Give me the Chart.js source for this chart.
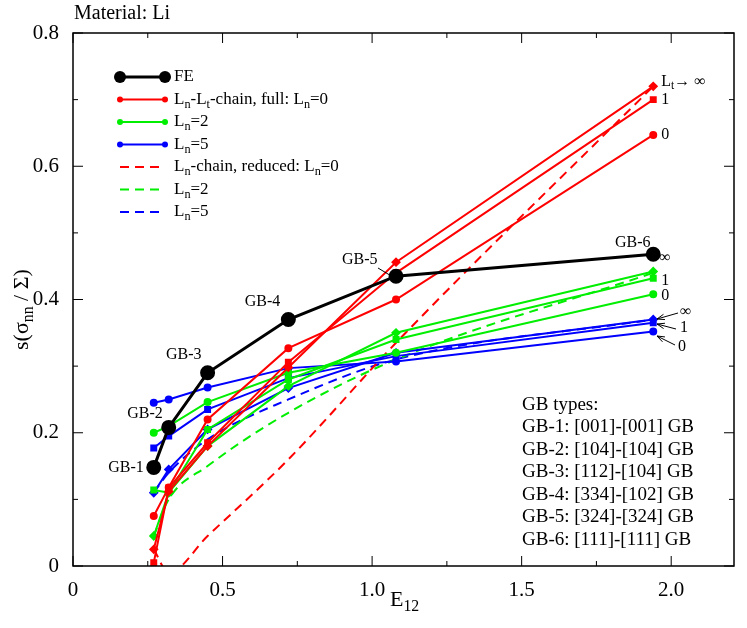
<!DOCTYPE html>
<html>
<head>
<meta charset="utf-8">
<script src="https://cdn.jsdelivr.net/npm/chart.js"></script>
<style>
  body { margin: 0; background: #fff; }
  #wrap { position: relative; width: 747px; height: 628px; }
</style>
</head>
<body>
<div id="wrap"><canvas id="myChart"></canvas></div>
<script>
// GB boundary energies E12 (x positions)
const gbNames = ["GB-1", "GB-2", "GB-3", "GB-4", "GB-5", "GB-6"];
const e12 = [0.27, 0.32, 0.45, 0.72, 1.08, 1.94];

const fe = [0.148, 0.208, 0.29, 0.37, 0.435, 0.468];

// full Ln-Lt chain, Lt = 0, 1, inf
const red0 = [0.075, 0.118, 0.22, 0.327, 0.40, 0.647];
const red1 = [0.005, 0.117, 0.185, 0.306, 0.44, 0.70];
const redInf = [0.025, 0.112, 0.18, 0.298, 0.456, 0.72];
const green0 = [0.2, 0.21, 0.246, 0.29, 0.32, 0.408];
const green1 = [0.114, 0.11, 0.205, 0.28, 0.34, 0.432];
const greenInf = [0.045, 0.11, 0.18, 0.27, 0.35, 0.442];
const blue0 = [0.245, 0.25, 0.268, 0.297, 0.307, 0.352];
const blue1 = [0.177, 0.195, 0.235, 0.282, 0.315, 0.365];
const blueInf = [0.11, 0.145, 0.205, 0.267, 0.32, 0.37];

// reduced Ln-chain
const redRed = [0.025, -0.01, 0.045, 0.16, 0.335, 0.72];
const greenRed = [0.045, 0.1, 0.15, 0.23, 0.31, 0.44];
const blueRed = [0.11, 0.14, 0.19, 0.25, 0.31, 0.37];

const gbTypes = ["GB types:", "GB-1: [001]-[001] GB", "GB-2: [104]-[104] GB",
  "GB-3: [112]-[104] GB", "GB-4: [334]-[102] GB", "GB-5: [324]-[324] GB", "GB-6: [111]-[111] GB"];

const RED = "#ff0000", GREEN = "#00ee00", BLUE = "#0000ff";
const FONT = "'Liberation Serif', 'DejaVu Serif', serif";

function pts(ys) { return ys.map((y, i) => ({ x: e12[i], y: y })); }

function solid(ys, color, style) {
  return { data: pts(ys), borderColor: color, backgroundColor: color, borderWidth: 2,
    pointStyle: style, pointRadius: style === "circle" ? 3 : 3.5, order: 2 };
}
function dashed(ys, color) {
  return { data: pts(ys), borderColor: color, borderWidth: 2, borderDash: [9, 6],
    pointRadius: 0, cubicInterpolationMode: "monotone", order: 3 };
}

// draw text with subscript parts: [["L"], ["n", true], ...]
function rich(ctx, parts, x, y, size) {
  let cx = x;
  parts.forEach(p => {
    const sub = p[1];
    ctx.font = (sub ? size * 0.72 : size) + "px " + FONT;
    ctx.fillText(p[0], cx, sub ? y + size * 0.3 : y);
    cx += ctx.measureText(p[0]).width;
  });
  return cx;
}

function arrow(ctx, x1, y1, x2, y2) {
  ctx.beginPath(); ctx.moveTo(x1, y1); ctx.lineTo(x2, y2); ctx.stroke();
  const a = Math.atan2(y2 - y1, x2 - x1), h = 8;
  ctx.beginPath();
  ctx.moveTo(x2 - h * Math.cos(a - 0.35), y2 - h * Math.sin(a - 0.35));
  ctx.lineTo(x2, y2);
  ctx.lineTo(x2 - h * Math.cos(a + 0.35), y2 - h * Math.sin(a + 0.35));
  ctx.stroke();
}

const annotate = {
  id: "annotate",
  afterDraw(chart) {
    const ctx = chart.ctx, xs = chart.scales.x, ys = chart.scales.y, ca = chart.chartArea;
    ctx.save();
    ctx.fillStyle = "#000"; ctx.strokeStyle = "#000";
    ctx.textBaseline = "middle";
    // frame and ticks
    ctx.lineWidth = 1.5;
    ctx.strokeRect(ca.left, ca.top, ca.right - ca.left, ca.bottom - ca.top);
    ctx.lineWidth = 1;
    for (let v = 0; v <= 2.2; v += 0.25) {
      const px = xs.getPixelForValue(v), L = Math.abs(v * 2 - Math.round(v * 2)) < 1e-6 ? 10 : 5;
      ctx.beginPath();
      ctx.moveTo(px, ca.bottom); ctx.lineTo(px, ca.bottom - L);
      ctx.moveTo(px, ca.top); ctx.lineTo(px, ca.top + L); ctx.stroke();
    }
    for (let i = 0; i <= 8; i++) {
      const py = ys.getPixelForValue(i / 10), L = i % 2 === 0 ? 10 : 5;
      ctx.beginPath();
      ctx.moveTo(ca.left, py); ctx.lineTo(ca.left + L, py);
      ctx.moveTo(ca.right, py); ctx.lineTo(ca.right - L, py); ctx.stroke();
    }
    // title
    ctx.textAlign = "left";
    ctx.font = "20px " + FONT;
    ctx.fillText("Material: Li", 74, 14);
    // axis titles
    rich(ctx, [["E"], ["12", true]], 390, 600, 22);
    ctx.save();
    ctx.translate(22, 300); ctx.rotate(-Math.PI / 2);
    rich(ctx, [["s(σ"], ["nn", true], [" / Σ)"]], -50, 0, 22);
    ctx.restore();
    // GB labels
    ctx.font = "16px " + FONT;
    ctx.textAlign = "right";
    const off = [[-10, 0], [-6, -14], [-6, -18], [-8, -18]];
    for (let i = 0; i < 4; i++) {
      ctx.fillText(gbNames[i], xs.getPixelForValue(e12[i]) + off[i][0], ys.getPixelForValue(fe[i]) + off[i][1]);
    }
    ctx.textAlign = "left";
    ctx.fillText("GB-5", 342, 260);
    arrow(ctx, 378, 268, 398, 280);
    ctx.fillText("GB-6", 615, 243);
    // end labels
    const ex = xs.getPixelForValue(1.94) + 8;
    rich(ctx, [["L"], ["t", true], ["→ ∞"]], ex, ys.getPixelForValue(0.727), 16);
    ctx.font = "16px " + FONT;
    ctx.fillText("1", ex, ys.getPixelForValue(0.70));
    ctx.fillText("0", ex, ys.getPixelForValue(0.647));
    ctx.fillText("∞", ex - 2, ys.getPixelForValue(0.462));
    ctx.fillText("1", ex, ys.getPixelForValue(0.428));
    ctx.fillText("0", ex, ys.getPixelForValue(0.405));
    ctx.fillText("∞", 680, 312);
    ctx.fillText("1", 680, 328);
    ctx.fillText("0", 678, 347);
    arrow(ctx, 678, 313, 657, 319);
    arrow(ctx, 676, 329, 657, 324);
    arrow(ctx, 675, 345, 657, 336);
    // legend
    const rows = [
      { c: "#000", w: 3, d: [], big: true, t: [["FE"]] },
      { c: RED, w: 2, d: [], t: [["L"], ["n", true], ["-L"], ["t", true], ["-chain, full: L"], ["n", true], ["=0"]] },
      { c: GREEN, w: 2, d: [], t: [["L"], ["n", true], ["=2"]] },
      { c: BLUE, w: 2, d: [], t: [["L"], ["n", true], ["=5"]] },
      { c: RED, w: 2, d: [9, 6], t: [["L"], ["n", true], ["-chain, reduced: L"], ["n", true], ["=0"]] },
      { c: GREEN, w: 2, d: [9, 6], t: [["L"], ["n", true], ["=2"]] },
      { c: BLUE, w: 2, d: [9, 6], t: [["L"], ["n", true], ["=5"]] }
    ];
    rows.forEach((r, i) => {
      const y = 77 + i * 22.5;
      ctx.strokeStyle = r.c; ctx.fillStyle = r.c; ctx.lineWidth = r.w; ctx.setLineDash(r.d);
      ctx.beginPath(); ctx.moveTo(120, y); ctx.lineTo(165, y); ctx.stroke();
      ctx.setLineDash([]);
      if (i < 4) {
        const rad = r.big ? 6 : 3;
        [120, 165].forEach(px => { ctx.beginPath(); ctx.arc(px, y, rad, 0, 2 * Math.PI); ctx.fill(); });
      }
      ctx.fillStyle = "#000";
      rich(ctx, r.t, 174, y, 17);
    });
    // GB types box
    ctx.font = "19px " + FONT;
    gbTypes.forEach((t, i) => ctx.fillText(t, 522, 405 + i * 22.5));
    ctx.restore();
  }
};

new Chart(document.getElementById("myChart"), {
  type: "line",
  data: {
    datasets: [
      { data: pts(fe), borderColor: "#000", backgroundColor: "#000", borderWidth: 3, pointRadius: 6, order: 1 },
      solid(red0, RED, "circle"), solid(red1, RED, "rect"), solid(redInf, RED, "rectRot"),
      solid(green0, GREEN, "circle"), solid(green1, GREEN, "rect"), solid(greenInf, GREEN, "rectRot"),
      solid(blue0, BLUE, "circle"), solid(blue1, BLUE, "rect"), solid(blueInf, BLUE, "rectRot"),
      dashed(redRed, RED), dashed(greenRed, GREEN), dashed(blueRed, BLUE)
    ]
  },
  options: {
    responsive: true,
    maintainAspectRatio: false,
    animation: false,
    layout: { padding: { top: 33, right: 13, left: 0, bottom: 0 } },
    plugins: { legend: { display: false }, tooltip: { enabled: false } },
    scales: {
      x: {
        type: "linear", min: 0, max: 2.21,
        afterFit: s => { s.height = 62; },
        afterBuildTicks: s => { s.ticks = [0, 0.5, 1, 1.5, 2].map(v => ({ value: v })); },
        grid: { display: false },
        border: { display: false },
        ticks: { color: "#000", font: { family: FONT, size: 21 }, padding: 4,
          callback: v => (v === 0 ? "0" : v.toFixed(1)) }
      },
      y: {
        min: 0, max: 0.8,
        afterFit: s => { s.width = 73; },
        grid: { display: false },
        border: { display: false },
        ticks: { stepSize: 0.2, color: "#000", font: { family: FONT, size: 21 }, padding: 6,
          callback: v => (v === 0 ? "0" : v.toFixed(1)) }
      }
    }
  },
  plugins: [annotate]
});
</script>
</body>
</html>
